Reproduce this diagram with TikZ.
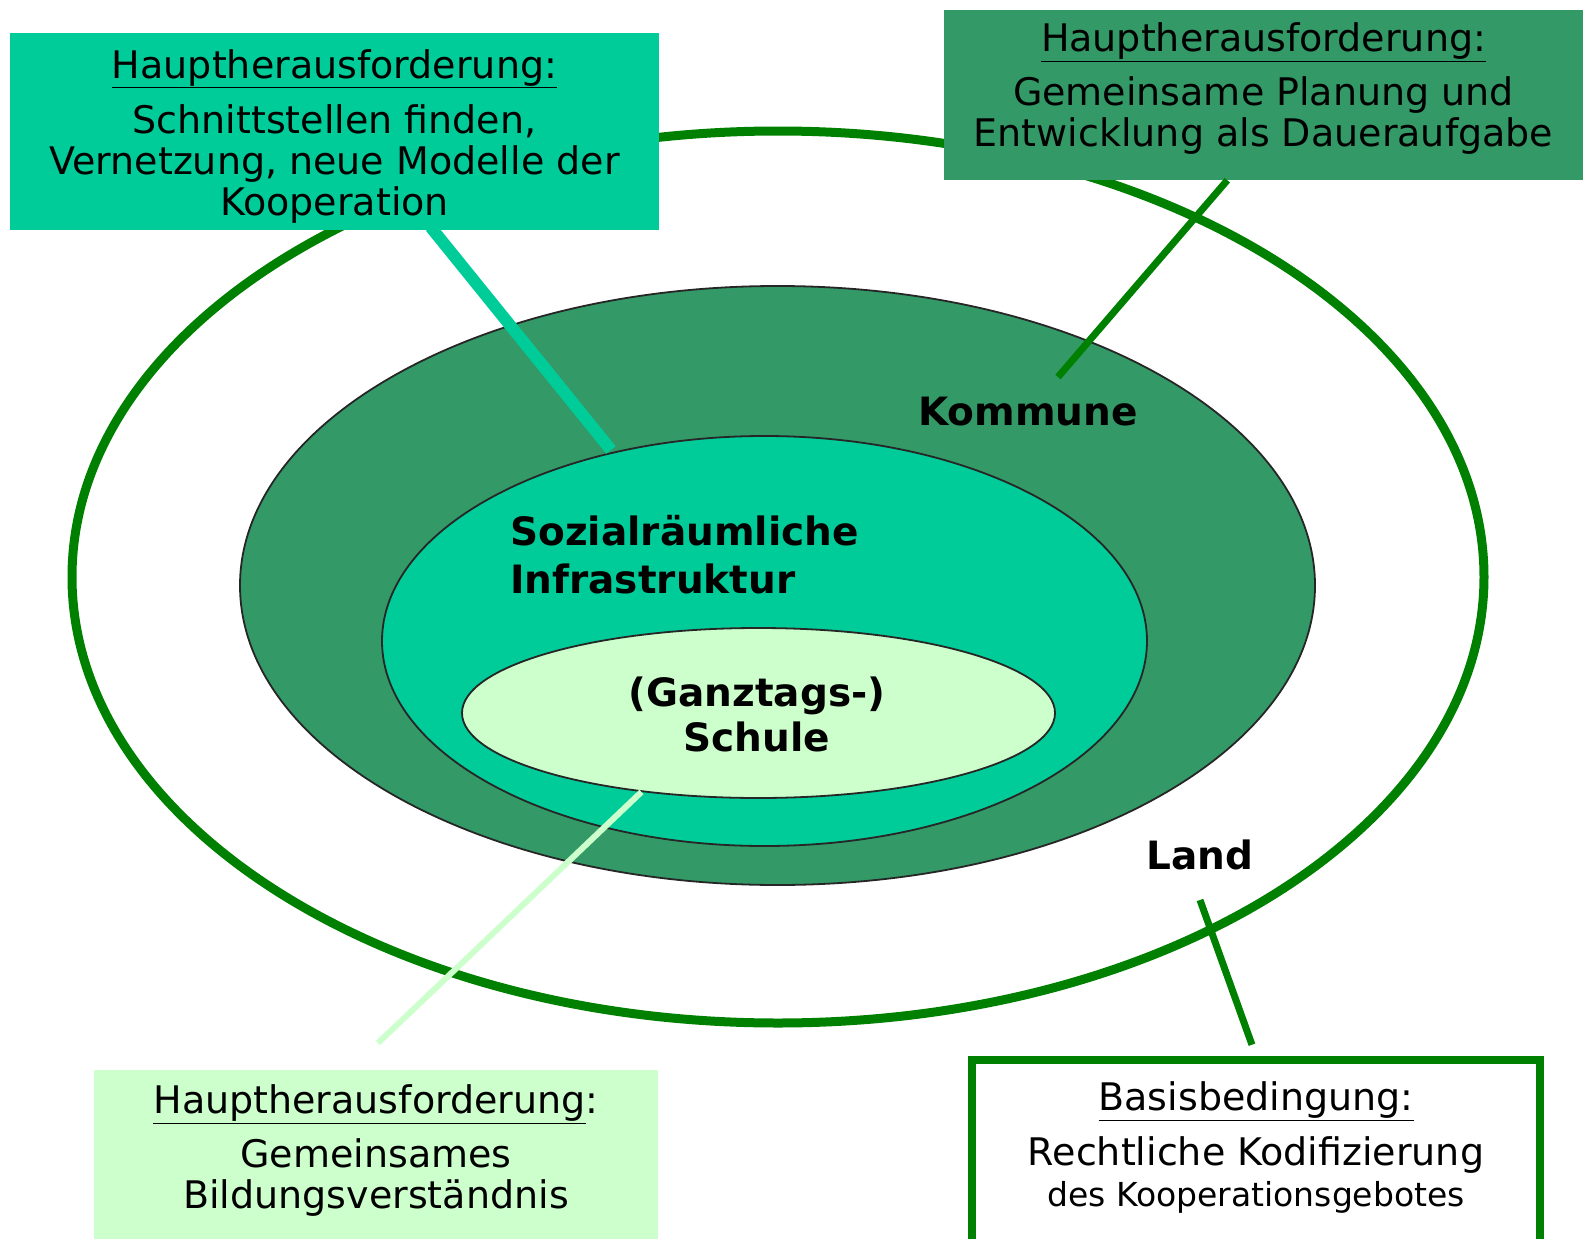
\documentclass[tikz,border=0pt]{standalone}
\usepackage{fontspec}
\setmainfont{DejaVu Sans}
\usetikzlibrary{shapes.geometric,positioning}

\definecolor{landgreen}{HTML}{008000}
\definecolor{kommunegreen}{HTML}{339966}
\definecolor{sozialgreen}{HTML}{00CC99}
\definecolor{schulegreen}{HTML}{CCFFCC}

\tikzset{
  zone/.style={ellipse, inner sep=0pt, draw=black!85, line width=1.8pt},
  infobox/.style={rectangle, inner sep=0pt, align=center, font=\fontsize{38}{41}\selectfont},
  zonelabel/.style={inner sep=0pt, font=\fontsize{39}{48}\selectfont\bfseries},
}

\begin{document}
\begin{tikzpicture}[x=1pt,y=-1pt]
\useasboundingbox (0,0) rectangle (1583,1239);

% ellipses, outside in
\node[ellipse, draw=landgreen, line width=9pt, inner sep=0pt, minimum width=1412pt, minimum height=892pt] (land) at (778,577) {};
\node[zone, fill=kommunegreen, minimum width=1075pt, minimum height=599pt] (kommune) at (777.5,585.5) {};
\node[zone, fill=sozialgreen, minimum width=765pt, minimum height=410pt] (sozial) at (764.5,641) {};
\node[zone, fill=schulegreen, minimum width=593pt, minimum height=170pt] (schule) at (758.5,713) {};

% boxes
\node[infobox, fill=sozialgreen, minimum width=649pt, minimum height=197pt] (tlbox) at (334.5,131.5)
  {\rule{0pt}{38pt}\underline{Hauptherausforderung:}\\[14pt] Schnittstellen finden,\\ Vernetzung, neue Modelle der\\ Kooperation};
\node[infobox, fill=kommunegreen, minimum width=639pt, minimum height=170pt] (trbox) at (1263.5,95)
  {\underline{Hauptherausforderung:}\\[13pt] Gemeinsame Planung und\\ Entwicklung als Daueraufgabe\rule[-21pt]{0pt}{0pt}};
\node[infobox, fill=schulegreen, minimum width=564pt, minimum height=169pt] (blbox) at (376,1154.5)
  {\underline{Hauptherausforderung}:\\[13pt] Gemeinsames\\ Bildungsverständnis\rule[-15pt]{0pt}{0pt}};
\node[infobox, fill=white, draw=landgreen, line width=8pt, minimum width=568pt, minimum height=184pt] (brbox) at (1256,1152)
  {\underline{Basisbedingung:}\\[14pt] Rechtliche Kodifizierung\\ {\fontsize{33}{35}\selectfont des Kooperationsgebotes\rule[-16pt]{0pt}{0pt}}};

% labels
\node[zonelabel] (kommunelbl) at (1028,412) {Kommune};
\node[zonelabel, align=left, anchor=west] (soziallbl) at (510,555) {Sozialräumliche\\ Infrastruktur};
\node[zonelabel, align=center, font=\fontsize{39}{45}\selectfont\bfseries] (schulelbl) at (757,714) {(Ganztags-)\\ Schule};
\node[zonelabel] (landlbl) at (1200,855) {Land};

% connectors
\coordinate (tlend) at (611,450);
\coordinate (trend) at (1058,377);
\coordinate (blend) at (378,1043);
\coordinate (brstart) at (1200,900);
\draw[sozialgreen, line width=12pt, shorten <=-4pt] (tlbox.-45) -- (tlend);
\draw[landgreen, line width=7pt] (trbox.-113) -- (trend);
\draw[schulegreen, line width=6pt] (schule.-146) -- (blend);
\draw[landgreen, line width=7pt, shorten >=12pt] (brstart) -- (brbox.north);
\end{tikzpicture}
\end{document}
